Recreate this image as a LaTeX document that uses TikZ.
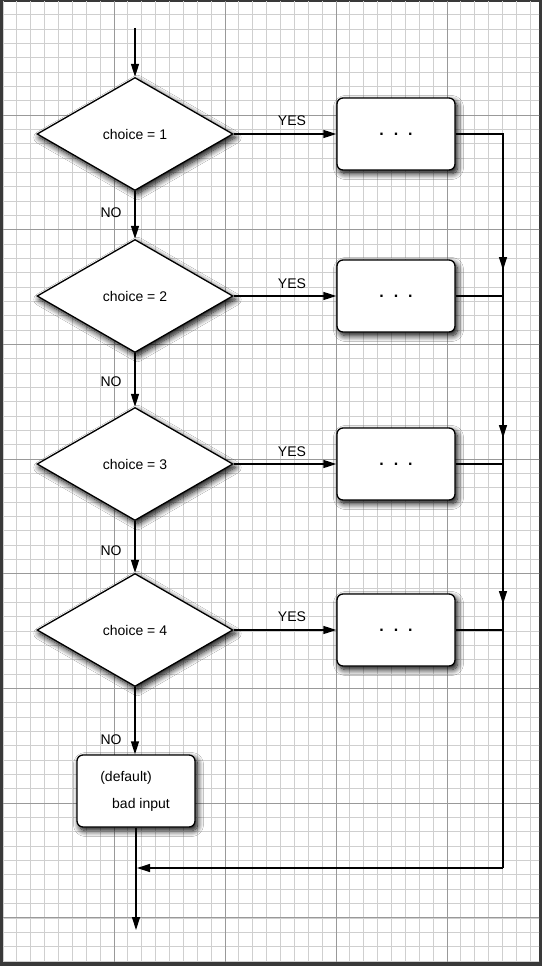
\documentclass[tikz,border=0pt]{standalone}
\usepackage{fontspec}
\setmainfont{Liberation Sans}
\usetikzlibrary{shapes.geometric,arrows.meta,shadows.blur}
\begin{document}
\begin{tikzpicture}[x=1pt,y=-1pt,
  every node/.style={font=\fontsize{14}{16}\selectfont},
  minorln/.style={line width=0.8pt, gray!38},
  majorln/.style={line width=1pt, gray!80},
  ln/.style={line width=1.3pt, black},
  arr/.style={ln, -{Triangle[length=13pt,width=8pt]}},
  shd/.style={blur shadow={shadow xshift=2.5pt, shadow yshift=-3.5pt, shadow blur radius=6pt, shadow opacity=100, shadow blur steps=10}},
  dec/.style={diamond, draw, line width=1.3pt, fill=white, minimum width=196pt, minimum height=113pt, inner sep=0pt, shd},
  act/.style={rectangle, rounded corners=6pt, draw, line width=1.3pt, fill=white, minimum width=118pt, minimum height=72pt, inner sep=0pt, shd},
  dots/.style={font=\bfseries\fontsize{16}{18}\selectfont},
  lbl/.style={inner sep=0pt}
]
\useasboundingbox (0,0) rectangle (542,966);
\fill[gray!45!black] (0,0) rectangle (542,966);
\fill[white] (3,2) rectangle (539,961);
\begin{scope}
\clip (3,2) rectangle (539,961);
\foreach \i in {0,...,38} {\draw[minorln] ({3+\i*13.875},0) -- ++(0,966);}
\foreach \i in {0,...,67} {\draw[minorln] (0,{0.3+\i*14.3375}) -- ++(542,0);}
\foreach \i in {1,...,4} {\draw[majorln] ({3+\i*111},0) -- ++(0,966);}
\foreach \i in {1,...,8} {\draw[majorln] (0,{0.3+\i*114.7}) -- ++(542,0);}
\end{scope}

% decisions
\node[dec] (d1) at (135,134) {choice = 1};
\node[dec] (d2) at (135,296) {choice = 2};
\node[dec] (d3) at (135,464) {choice = 3};
\node[dec] (d4) at (135,630) {choice = 4};
% actions
\node[act,dots] (b1) at (396,134) {.\hspace{10pt}.\hspace{10pt}.};
\node[act,dots] (b2) at (396,296) {.\hspace{10pt}.\hspace{10pt}.};
\node[act,dots] (b3) at (396,464) {.\hspace{10pt}.\hspace{10pt}.};
\node[act,dots] (b4) at (396,630) {.\hspace{10pt}.\hspace{10pt}.};
\node[act] (df) at (136,791) {};
\node[lbl] (dft) at (126,778) {(default)};
\node[lbl] (bad) at (141,805) {bad input};

% coordinates
\coordinate (start) at (135,28);
\coordinate (end) at (136,930);
\coordinate (j1) at (503,134);
\coordinate (j2) at (503,296);
\coordinate (j3) at (503,464);
\coordinate (j4) at (503,630);
\coordinate (jb) at (503,868);
\coordinate (a2) at (503,270);
\coordinate (a3) at (503,438);
\coordinate (a4) at (503,604);
\coordinate (m) at (137,868);

% main column
\draw[arr] (start) -- (d1.north);
\draw[arr] (d1.south) -- (d2.north);
\draw[arr] (d2.south) -- (d3.north);
\draw[arr] (d3.south) -- (d4.north);
\draw[arr] (d4.south) -- (d4.south |- df.north);
\draw[arr] (df.south) -- (end);

% yes branches
\draw[arr] (d1.east) -- (b1.west);
\draw[arr] (d2.east) -- (b2.west);
\draw[arr] (d3.east) -- (b3.west);
\draw[arr] (d4.east) -- (b4.west);

% return line
\draw[ln] (b1.east) -- (j1) -- (jb);
\draw[ln] (b2.east) -- (j2);
\draw[ln] (b3.east) -- (j3);
\draw[ln] (b4.east) -- (j4);
\draw[arr] (j1) -- (a2);
\draw[arr] (j2) -- (a3);
\draw[arr] (j3) -- (a4);
\draw[arr] (jb) -- (m);

% labels
\node[lbl] at (292,121) {YES};
\node[lbl] at (292,284) {YES};
\node[lbl] at (292,452) {YES};
\node[lbl] at (292,617) {YES};
\node[lbl] at (111,213) {NO};
\node[lbl] at (111,382) {NO};
\node[lbl] at (111,551) {NO};
\node[lbl] at (111,740) {NO};
\end{tikzpicture}
\end{document}
